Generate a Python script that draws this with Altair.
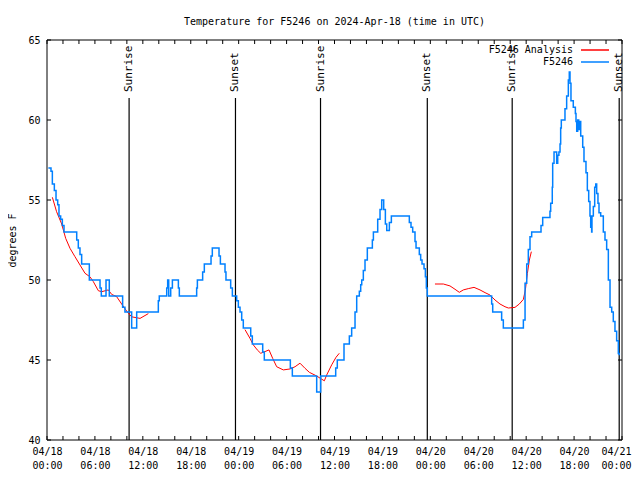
import altair as alt
import pandas as pd

MONO = "DejaVu Sans Mono"

# Observed temperature (F5246), hours since 04/18 00:00 UTC, step values
blue_h = [0.17, 0.50, 0.67, 0.92, 1.13, 1.34, 1.50, 1.71, 1.92, 2.13, 3.72, 3.92, 4.13, 4.34,
          5.30, 6.64, 6.80, 7.39, 7.80, 9.47, 9.76, 10.60, 11.23, 13.94, 14.06, 14.99, 15.11,
          15.24, 15.49, 15.70, 16.45, 16.57, 18.74, 18.83, 19.49, 19.70, 20.54, 20.70, 21.54,
          21.71, 22.29, 22.41, 23.00, 23.21, 23.75, 23.96, 24.17, 24.38, 24.58, 25.51, 25.71,
          27.01, 27.21, 30.47, 30.72, 33.77, 34.27, 36.15, 36.35, 37.19, 37.86, 38.15, 38.57,
          38.78, 39.11, 39.28, 39.41, 39.61, 39.82, 40.11, 40.74, 40.87, 41.41, 41.70, 41.91,
          42.16, 42.37, 42.54, 42.87, 43.12, 45.37, 45.58, 45.79, 46.08, 46.21, 46.62, 46.79,
          46.96, 47.21, 47.38, 47.50, 47.62, 55.68, 55.81, 56.93, 57.14, 59.65, 59.86, 60.07,
          60.27, 60.48, 60.69, 61.86, 62.07, 62.98, 63.07, 63.27, 63.32, 63.49, 63.82, 63.95,
          64.10, 64.24, 64.32, 64.40, 64.86, 65.07, 65.28, 65.40, 65.49, 65.61, 65.90, 66.16,
          66.24, 66.33, 66.45, 66.58, 66.66, 66.83, 67.08, 67.24, 67.49, 67.66, 67.83, 67.99,
          68.08, 68.20, 68.24, 68.41, 68.58, 68.71, 68.83, 68.99, 69.12, 69.33, 69.66, 69.87,
          70.08, 70.29, 70.50, 70.71, 70.91, 71.12, 71.33, 71.54, 71.66]
blue_t = [57.0, 56.8, 56.0, 55.6, 55.0, 54.7, 54.0, 53.8, 53.4, 53.0, 52.5, 52.0, 51.6, 51.0,
          50.0, 49.5, 49.0, 50.0, 49.0, 48.3, 48.0, 47.0, 48.0, 48.7, 49.0, 49.5, 50.0,
          49.0, 49.5, 50.0, 49.5, 49.0, 49.5, 50.0, 50.5, 51.0, 51.5, 52.0, 51.5,
          51.0, 50.5, 50.0, 49.5, 49.0, 48.7, 48.3, 48.0, 47.5, 47.0, 46.5, 46.0,
          45.5, 45.0, 44.5, 44.0, 43.0, 44.0, 44.5, 45.0, 46.0, 46.5, 47.0, 48.0,
          49.0, 49.3, 49.7, 50.0, 50.6, 51.25, 52.0, 52.5, 53.0, 53.8, 54.4, 55.0,
          54.4, 53.5, 53.1, 53.6, 54.0, 53.6, 53.3, 53.0, 52.4, 52.0, 51.6, 51.25,
          51.0, 50.7, 50.2, 49.5, 49.0, 48.5, 48.0, 47.5, 47.0, 47.5, 49.8, 51.0,
          51.9, 52.7, 53.0, 53.4, 53.9, 54.3, 54.8, 55.8, 57.3, 58.0, 57.3, 57.8,
          58.0, 58.5, 59.5, 60.0, 60.7, 61.5, 62.5, 63.0, 62.3, 61.2, 60.8, 60.4,
          59.9, 59.3, 60.0, 59.4, 59.9, 59.0, 58.3, 57.4, 56.7, 55.6, 54.9, 54.0,
          53.3, 53.0, 54.0, 54.6, 55.8, 56.0, 55.4, 54.8, 54.2, 54.0, 53.0, 52.5,
          51.9, 50.0, 48.3, 48.0, 47.4, 46.8, 46.2, 45.4, 45.3]

# Analysis (F5246 Analysis), three separate runs
red_h = [0.67, 1.20, 1.84, 2.34, 2.88, 3.50, 4.13, 4.76, 5.38, 5.80, 6.43, 6.85, 7.68, 8.10,
         8.72, 9.35, 10.06, 10.60, 11.65, 12.69,
         24.79, 25.42, 25.84, 26.33, 26.76, 27.17, 27.80, 28.26, 28.76, 29.59, 30.43, 31.06,
         31.68, 32.31, 32.85, 33.77, 34.40, 34.73, 35.02, 35.65, 36.19, 36.60,
         48.58, 49.63, 50.46, 51.09, 51.63, 52.13, 52.75, 53.47, 54.22, 54.85, 55.47, 56.10,
         56.72, 57.35, 57.77, 58.60, 59.14, 59.65, 59.90, 60.15, 60.40, 60.65]
red_t = [55.17, 54.27, 53.5, 52.6, 51.98, 51.46, 50.94, 50.42, 50.2, 49.9, 49.33, 49.27, 49.38,
         49.1, 48.96, 48.5, 48.0, 47.7, 47.6, 47.9,
         46.9, 46.35, 45.94, 45.63, 45.42, 45.5, 45.63, 45.1, 44.58, 44.38, 44.44, 44.58,
         44.8, 44.48, 44.23, 44.0, 43.8, 43.7, 44.06, 44.7, 45.17, 45.42,
         49.75, 49.75, 49.63, 49.42, 49.23, 49.38, 49.46, 49.54, 49.38, 49.21, 49.06, 48.75,
         48.5, 48.33, 48.25, 48.29, 48.5, 48.79, 49.38, 50.4, 51.25, 51.77]
red_seg = [1] * 20 + [2] * 22 + [3] * 22

sun_h = [10.28, 23.60, 34.25, 47.62, 58.25, 71.65]
sun_lbl = ["Sunrise", "Sunset", "Sunrise", "Sunset", "Sunrise", "Sunset"]

x_label_hours = [0, 6, 12, 18, 24, 30, 36, 42, 48, 54, 60, 66, 72]
x_tick_hours = list(range(0, 73, 2))
y_tick_vals = [40, 45, 50, 55, 60, 65]

legend_names = ["F5246 Analysis", "F5246"]
legend_colors = ["#ff0000", "#0080ff"]

W, H = 575, 400

blue = pd.DataFrame({"h": blue_h, "t": blue_t})
red = pd.DataFrame({"h": red_h, "t": red_t, "seg": red_seg})
sun = pd.DataFrame({"h": sun_h, "lbl": sun_lbl})
xt = pd.DataFrame({"h": x_tick_hours})
yt = pd.DataFrame({"t": y_tick_vals})

xs = alt.Scale(domain=[0, 72], nice=False, zero=False)
ys = alt.Scale(domain=[40, 65], nice=False, zero=False)

label_expr = ("['04/' + (18 + floor(datum.value / 24)), "
              "(datum.value % 24 < 10 ? '0' : '') + (datum.value % 24) + ':00']")
xax = alt.Axis(values=x_label_hours, labelExpr=label_expr, ticks=False, domain=False,
               grid=False, title=None, labelFont=MONO, labelFontSize=10, labelColor="black",
               labelPadding=6, labelLineHeight=14, labelAngle=0, labelOverlap=False,
               labelFlush=False,
               labelOffset={"condition": {"test": "datum.value == 72", "value": -6},
                            "value": 0})
yax = alt.Axis(values=y_tick_vals, ticks=False, domain=False, grid=False, title="degrees F",
               titleFont=MONO, titleFontSize=10, titleFontWeight="normal", titleColor="black",
               titlePadding=10, labelFont=MONO, labelFontSize=10, labelColor="black",
               labelPadding=7)

one = alt.Data(values=[{}])

border = alt.Chart(one).mark_rect(fillOpacity=0, stroke="black", strokeWidth=1).encode(
    x=alt.value(0), x2=alt.value(W), y=alt.value(0), y2=alt.value(H))

xt_bottom = alt.Chart(xt).mark_rule(color="black").encode(
    x=alt.X("h:Q", scale=xs, axis=xax), y=alt.value(H), y2=alt.value(H - 4))
xt_top = alt.Chart(xt).mark_rule(color="black").encode(
    x=alt.X("h:Q", scale=xs, axis=xax), y=alt.value(0), y2=alt.value(4))
yt_left = alt.Chart(yt).mark_rule(color="black").encode(
    y=alt.Y("t:Q", scale=ys, axis=yax), x=alt.value(0), x2=alt.value(4))
yt_right = alt.Chart(yt).mark_rule(color="black").encode(
    y=alt.Y("t:Q", scale=ys, axis=yax), x=alt.value(W), x2=alt.value(W - 4))

sun_rules = alt.Chart(sun).mark_rule(color="black", strokeWidth=1.2).encode(
    x=alt.X("h:Q", scale=xs, axis=xax), y=alt.value(58), y2=alt.value(H))
sun_text = alt.Chart(sun).mark_text(angle=270, align="left", baseline="middle", font=MONO,
                                    fontSize=11, color="black").encode(
    x=alt.X("h:Q", scale=xs, axis=xax), y=alt.value(52), text="lbl:N")

red_line = alt.Chart(red).mark_line(color="#ff0000", strokeWidth=1).encode(
    x=alt.X("h:Q", scale=xs, axis=xax), y=alt.Y("t:Q", scale=ys, axis=yax),
    detail="seg:N")
blue_line = alt.Chart(blue).mark_line(color="#0080ff", strokeWidth=1.5,
                                      interpolate="step-after").encode(
    x=alt.X("h:Q", scale=xs, axis=xax), y=alt.Y("t:Q", scale=ys, axis=yax))

legend_layers = []
for i, (name, col) in enumerate(zip(legend_names, legend_colors)):
    ypix = 10 + 12 * i
    legend_layers.append(
        alt.Chart(alt.Data(values=[{"name": name}])).mark_text(
            align="right", baseline="middle", font=MONO, fontSize=10, color="black"
        ).encode(x=alt.value(526), y=alt.value(ypix), text="name:N"))
    legend_layers.append(
        alt.Chart(one).mark_rule(strokeWidth=1.5, color=col).encode(
            x=alt.value(534), x2=alt.value(562), y=alt.value(ypix)))

chart = alt.layer(
    border, xt_bottom, xt_top, yt_left, yt_right, sun_rules, sun_text, red_line, blue_line,
    *legend_layers
).properties(
    width=W, height=H,
    title=alt.TitleParams("Temperature for F5246 on 2024-Apr-18 (time in UTC)", font=MONO,
                          fontSize=10, fontWeight="normal", color="black", offset=8,
                          anchor="middle"),
    autosize=alt.AutoSizeParams(type="none"),
    padding={"left": 39, "top": 32, "right": 10, "bottom": 32},
).configure_view(stroke=None)

chart.save("out.html", embed_options={"renderer": "svg", "actions": False})
